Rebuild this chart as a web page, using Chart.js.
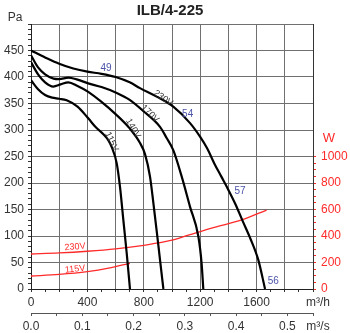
<!DOCTYPE html>
<html>
<head>
<meta charset="utf-8">
<script src="https://cdn.jsdelivr.net/npm/chart.js@4/dist/chart.umd.min.js"></script>
<style>
html,body{margin:0;padding:0;background:#fff;}
#wrap{width:350px;height:333px;position:relative;}
</style>
</head>
<body>
<div id="wrap"><canvas id="c" width="350" height="333"></canvas></div>
<script>
// ---- data (airflow m3/h, pressure Pa) ----
const curve230V = [[0,450],[100,437],[200,425],[300,416],[400,410],[500,406],[600,400],[700,390],[773,379],[891,363],[1009,344],[1128,313],[1200,287],[1250,265],[1300,237],[1350,212],[1400,187],[1450,160],[1500,129],[1553,97],[1612,55],[1660,0]];
const curve170V = [[0,441],[50,418],[100,405],[160,397],[200,396],[265,399],[330,395],[406,388],[500,381],[608,370],[700,357],[800,335],[915,306],[962,285],[1009,262],[1069,212],[1128,155],[1187,99],[1210,48],[1222,0]];
const curve140V = [[0,428],[50,405],[100,390],[158,382],[210,386],[265,390],[330,383],[406,372],[500,353],[600,330],[700,303],[770,277],[809,254],[844,212],[868,162],[896,99],[915,55],[939,0]];
const curve115V = [[0,394],[50,377],[100,366],[150,361],[200,359],[253,356],[330,344],[406,322],[460,305],[513,292],[550,280],[572,268],[608,237],[631,193],[655,130],[679,67],[702,0]];
// power input (airflow m3/h, W)
const power230V = [[0,264],[200,272],[400,285],[600,303],[800,330],[1000,368],[1128,410],[1300,465],[1494,521],[1671,596]];
const power115V = [[0,98],[200,110],[400,131],[550,157],[702,194]];
// tick labels
const flowTicks = [0,400,800,1200,1600];
const pressureTicks = [0,50,100,150,200,250,300,350,400,450];
const powerTicks = [0,200,400,600,800,1000];
const flowSecTicks = [0.0,0.1,0.2,0.3,0.4,0.5];
// curve annotations: [text, flow, value, axis, kind, angle]
const curveLabels = [
  ['230V', 938, 360, 'y', 'volt', 35],
  ['170V', 844, 331, 'y', 'volt', 45],
  ['140V', 725, 303, 'y', 'volt', 60],
  ['115V', 572, 278, 'y', 'volt', 65],
  ['49', 532, 416, 'y', 'db', 0],
  ['54', 1111, 330, 'y', 'db', 0],
  ['57', 1482, 184, 'y', 'db', 0],
  ['56', 1718, 14, 'y', 'db', 0],
  ['230V', 312, 318, 'yW', 'pw', -5],
  ['115V', 312, 150, 'yW', 'pw', -6]
];

const toPts = a => a.map(p => ({x:p[0], y:p[1]}));
const FONT = "'Liberation Sans', Arial, sans-serif";
const GRID = '#707070';
const RED = '#ff2a2a';

const textPlugin = {
  id: 'texts',
  afterDraw(chart) {
    const ctx = chart.ctx, ca = chart.chartArea, s = chart.scales;
    ctx.save();
    ctx.textAlign = 'center'; ctx.textBaseline = 'middle';
    ctx.fillStyle = '#222';
    ctx.font = 'bold 15px ' + FONT;
    ctx.fillText('ILB/4-225', 170, 11);
    ctx.font = '12px ' + FONT;
    ctx.fillStyle = '#333';
    ctx.fillText('Pa', 15, 18);
    ctx.fillText('m³/h', ca.right + 5, ca.bottom + 14);
    ctx.fillText('m³/s', ca.right + 5, ca.bottom + 38);
    ctx.fillStyle = RED;
    ctx.font = '13px ' + FONT;
    ctx.fillText('W', ca.right + 16, s.yW.getPixelForValue(1140));
    for (const l of curveLabels) {
      const px = s.x.getPixelForValue(l[1]);
      const py = s[l[3]].getPixelForValue(l[2]);
      ctx.save();
      ctx.translate(px, py);
      ctx.rotate(l[5] * Math.PI / 180);
      if (l[4] === 'volt') { ctx.font = '9px ' + FONT; ctx.fillStyle = '#333'; }
      else if (l[4] === 'db') { ctx.font = '10px ' + FONT; ctx.fillStyle = '#4a52a8'; }
      else { ctx.font = '9px ' + FONT; ctx.fillStyle = RED; }
      ctx.fillText(l[0], 0, 0);
      ctx.restore();
    }
    ctx.restore();
  }
};

const fanDs = (data) => ({data: toPts(data), borderColor:'#000', borderWidth:2.2, pointRadius:0, cubicInterpolationMode:'monotone', xAxisID:'x', yAxisID:'y', fill:false});
const powDs = (data) => ({data: toPts(data), borderColor:RED, borderWidth:1.3, pointRadius:0, cubicInterpolationMode:'monotone', xAxisID:'x', yAxisID:'yW', fill:false});

new Chart(document.getElementById('c'), {
  type: 'line',
  data: { datasets: [fanDs(curve230V), fanDs(curve170V), fanDs(curve140V), fanDs(curve115V), powDs(power230V), powDs(power115V)] },
  options: {
    responsive: false, animation: false,
    layout: { padding: { top: 24, left: 0, right: 0, bottom: 0 } },
    plugins: { legend: {display:false}, title:{display:false}, tooltip:{enabled:false} },
    scales: {
      x: {
        type:'linear', position:'bottom', min:0, max:2000,
        afterFit: sc => { sc.height = 24; },
        ticks: { stepSize:100, autoSkip:false, maxRotation:0, minRotation:0, padding:3, color:'#333', font:{family:FONT,size:12},
          callback: v => flowTicks.includes(v) ? String(v) : '' },
        grid: { color: c => (c.tick && c.tick.value % 200 === 0) ? GRID : 'rgba(0,0,0,0)', tickColor:'#333', tickLength:3, lineWidth:1 },
        border: { color:'#222', width:1 }
      },
      x2: {
        type:'linear', position:'bottom', min:0, max:0.55,
        afterFit: sc => { sc.height = 20; },
        ticks: { stepSize:0.05, autoSkip:false, maxRotation:0, minRotation:0, padding:3, color:'#333', font:{family:FONT,size:12},
          callback: v => { const r = Math.round(v*100)/100; return flowSecTicks.some(t => Math.abs(t-r) < 1e-6) ? r.toFixed(1) : ''; } },
        grid: { drawOnChartArea:false, tickColor:'#555', tickLength:3 },
        border: { color:'#555', width:1 }
      },
      y: {
        type:'linear', position:'left', min:0, max:500,
        afterFit: sc => { sc.width = 31; },
        ticks: { stepSize:10, autoSkip:false, padding:4, color:'#333', font:{family:FONT,size:12},
          callback: v => pressureTicks.includes(v) ? String(v) : '' },
        grid: { color: c => (c.tick && c.tick.value % 50 === 0) ? GRID : 'rgba(0,0,0,0)', tickColor:'#333', tickLength:3, lineWidth:1 },
        border: { color:'#222', width:1 }
      },
      yW: {
        type:'linear', position:'right', min:0, max:2000,
        afterFit: sc => { sc.width = 37; },
        ticks: { stepSize:50, autoSkip:false, padding:5, color:RED, font:{family:FONT,size:12},
          callback: v => powerTicks.includes(v) ? String(v) : '' },
        grid: { drawOnChartArea:false, tickColor: c => (c.tick && c.tick.value <= 1000) ? RED : 'rgba(0,0,0,0)', tickLength:3 },
        border: { color:'#333', width:1 }
      }
    }
  },
  plugins: [textPlugin]
});
</script>
</body>
</html>
